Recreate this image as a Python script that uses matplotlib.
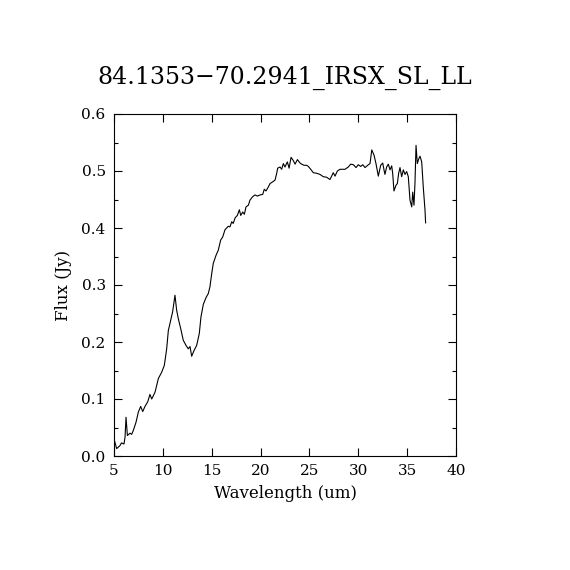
import matplotlib
matplotlib.use('Agg')
import matplotlib.pyplot as plt
from matplotlib.ticker import MultipleLocator

# spectrum
wavelength = [5.0, 5.27, 5.6, 5.77, 6.02, 6.13, 6.23, 6.37, 6.64, 6.81, 6.98, 7.25, 7.49, 7.73,
              7.94, 8.17, 8.45, 8.68, 8.86, 9.2, 9.54, 9.88, 10.15, 10.39, 10.56, 10.8, 11.0,
              11.24, 11.41, 11.58, 11.82, 12.09, 12.37, 12.6, 12.78, 12.95, 13.19, 13.46, 13.73,
              13.9, 14.14, 14.42, 14.65, 14.82, 15.0, 15.16, 15.44, 15.67, 15.92, 16.12, 16.36,
              16.7, 16.87, 17.05, 17.2, 17.4, 17.62, 17.83, 17.97, 18.17, 18.34, 18.51, 18.75,
              18.92, 19.19, 19.43, 19.67, 19.94, 20.22, 20.38, 20.56, 20.79, 20.97, 21.24, 21.48,
              21.65, 21.75, 21.99, 22.16, 22.33, 22.5, 22.74, 22.92, 23.12, 23.36, 23.53, 23.77,
              24.04, 24.21, 24.45, 24.72, 24.89, 25.13, 25.4, 25.74, 26.08, 26.42, 26.77, 27.1,
              27.44, 27.62, 27.86, 28.13, 28.64, 28.98, 29.22, 29.5, 29.77, 30.0, 30.25, 30.46,
              30.69, 31.03, 31.2, 31.38, 31.61, 31.81, 32.05, 32.29, 32.5, 32.63, 32.73, 32.9,
              33.07, 33.25, 33.42, 33.52, 33.65, 33.86, 34.0, 34.13, 34.27, 34.44, 34.61, 34.78,
              34.95, 35.12, 35.29, 35.47, 35.57, 35.7, 35.8, 35.91, 36.04, 36.18, 36.32, 36.49,
              36.65, 36.83, 36.89]
flux = [0.030, 0.013, 0.018, 0.023, 0.021, 0.033, 0.068, 0.036, 0.040, 0.038, 0.045, 0.059, 0.077,
        0.087, 0.078, 0.087, 0.095, 0.108, 0.100, 0.112, 0.136, 0.147, 0.159, 0.188, 0.220, 0.238,
        0.253, 0.282, 0.256, 0.241, 0.224, 0.203, 0.194, 0.188, 0.192, 0.175, 0.185, 0.194, 0.215,
        0.244, 0.266, 0.278, 0.285, 0.297, 0.320, 0.338, 0.352, 0.361, 0.379, 0.384, 0.397,
        0.403, 0.402, 0.411, 0.408, 0.418, 0.422, 0.432, 0.422, 0.428, 0.424, 0.437, 0.440,
        0.449, 0.455, 0.458, 0.456, 0.458, 0.459, 0.468, 0.465, 0.472, 0.478, 0.481, 0.484,
        0.496, 0.505, 0.507, 0.503, 0.513, 0.507, 0.516, 0.505, 0.524, 0.518, 0.512, 0.520,
        0.514, 0.512, 0.510, 0.510, 0.508, 0.503, 0.497, 0.496, 0.494, 0.490, 0.489, 0.485,
        0.497, 0.491, 0.500, 0.503, 0.503, 0.507, 0.512, 0.511, 0.506, 0.511, 0.508, 0.511,
        0.506, 0.511, 0.513, 0.537, 0.528, 0.513, 0.491, 0.510, 0.514, 0.502, 0.494, 0.507,
        0.512, 0.502, 0.509, 0.496, 0.465, 0.475, 0.478, 0.496, 0.506, 0.490, 0.502, 0.494,
        0.499, 0.490, 0.449, 0.437, 0.463, 0.440, 0.478, 0.545, 0.513, 0.521, 0.526, 0.516,
        0.472, 0.431, 0.409]

title = '84.1353\u221270.2941_IRSX_SL_LL'

plt.rcParams['font.family'] = ['DejaVu Serif']

fig = plt.figure(figsize=(5.7, 5.7), dpi=100)
ax = fig.add_axes([0.2, 0.2, 0.6, 0.6])
ax.plot(wavelength, flux, color='black', linewidth=0.8)

ax.set_xlim(5, 40)
ax.set_ylim(0, 0.6)
ax.xaxis.set_major_locator(MultipleLocator(5))
ax.yaxis.set_major_locator(MultipleLocator(0.1))
ax.yaxis.set_minor_locator(MultipleLocator(0.05))
ax.yaxis.set_major_formatter(plt.FuncFormatter(lambda v, p: '{:.1f}'.format(v)))
ax.tick_params(which='both', direction='in', top=True, right=True, labelsize=11,
               width=0.8, colors='black')
ax.tick_params(which='major', length=6, pad=6)
ax.tick_params(which='minor', length=3)
for s in ax.spines.values():
    s.set_linewidth(0.8)

ax.set_title(title, fontsize=17, pad=22)
ax.set_xlabel('Wavelength (um)', fontsize=12, labelpad=5)
ax.set_ylabel('Flux (Jy)', fontsize=12, labelpad=7)

fig.savefig('out.png', dpi=100)
